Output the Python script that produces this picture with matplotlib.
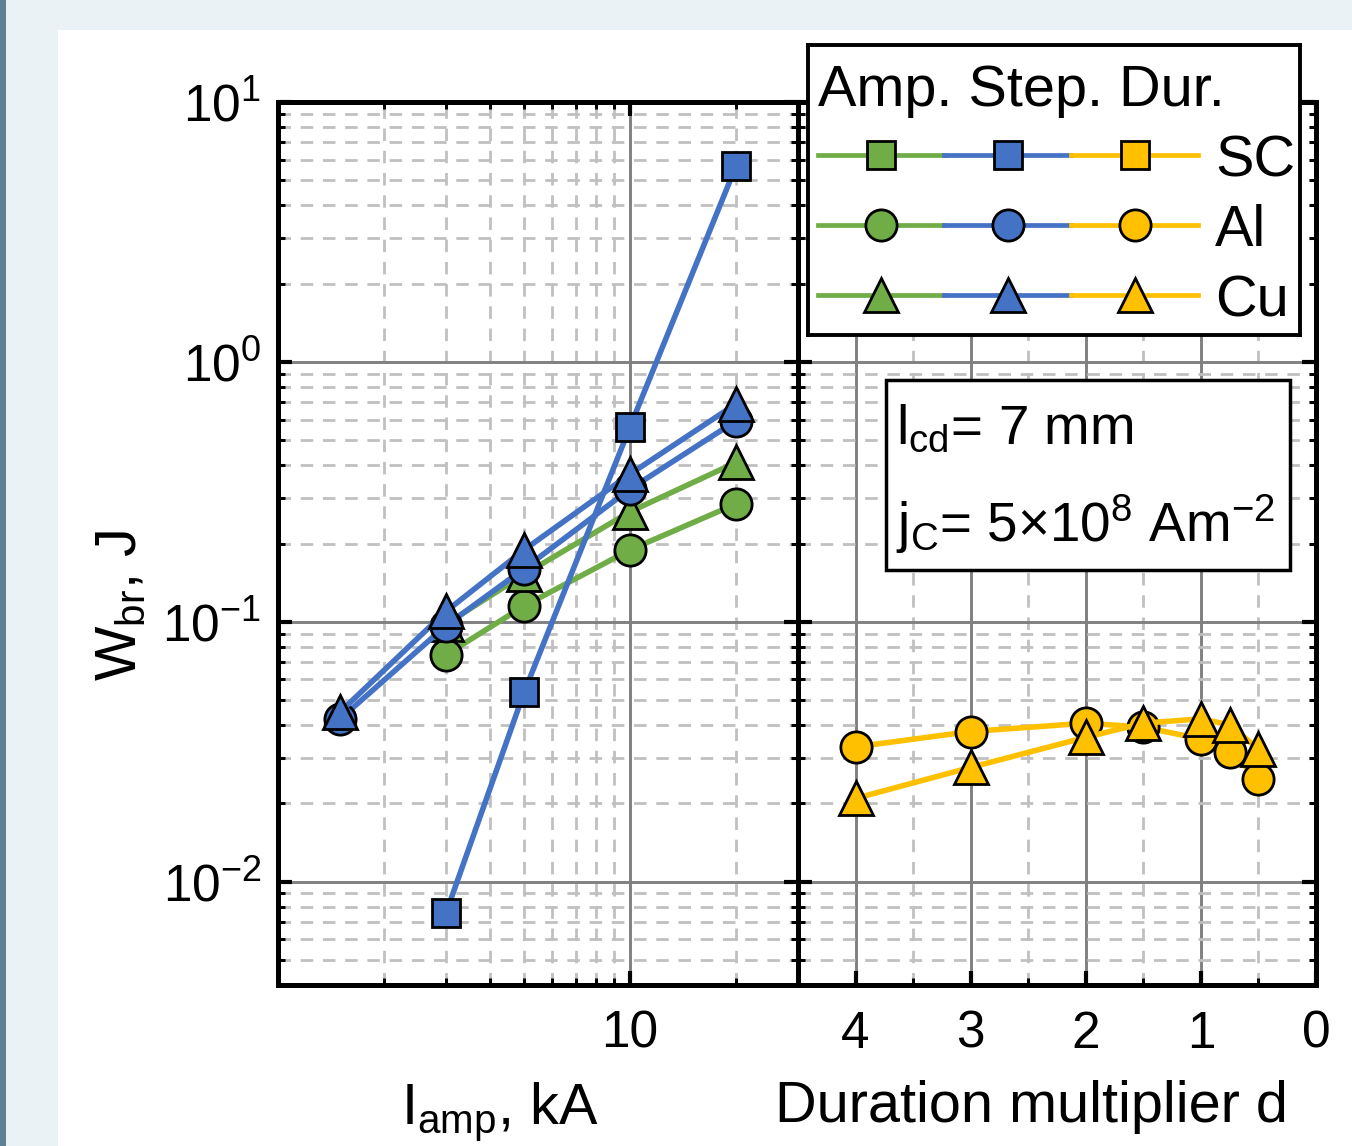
import matplotlib
matplotlib.use("Agg")
import matplotlib.pyplot as plt
from matplotlib.patches import Rectangle
from matplotlib.ticker import FixedLocator, LogLocator, MultipleLocator, NullFormatter

plt.rcParams["font.family"] = ["Liberation Sans", "DejaVu Sans"]
plt.rcParams["mathtext.default"] = "regular"

# --------------------------------------------------------------------------- #
# Data
# --------------------------------------------------------------------------- #
amp_x = [3, 5, 10, 20]
amp_al = [0.0746, 0.115, 0.189, 0.284]
amp_cu = [0.098, 0.152, 0.265, 0.410]

step_x = [1.5, 3, 5, 10, 20]
step_al = [0.0422, 0.0966, 0.160, 0.324, 0.593]
step_cu = [0.0449, 0.1096, 0.189, 0.370, 0.689]
step_sc_x = [3, 5, 10, 20]
step_sc = [0.00756, 0.0535, 0.562, 5.67]

dur_x = [4, 3, 2, 1.5, 1, 0.75, 0.5]
dur_al = [0.0330, 0.0378, 0.0407, 0.0393, 0.0354, 0.0316, 0.0249]
dur_cu = [0.0209, 0.0275, 0.0359, 0.0407, 0.0423, 0.0401, 0.0323]

legend_rows = ["SC", "Al", "Cu"]

GREEN = "#70ad47"
BLUE = "#4472c4"
YELLOW = "#ffc000"
MARK = {"s": 20, "o": 22.5, "^": 24}
FS = 41.5

W, H = 1352, 1146
fig = plt.figure(figsize=(W / 100, H / 100), dpi=100)
fig.patch.set_facecolor("#eaf2f5")
fig.add_artist(Rectangle((58 / W, 0), 1 - 58 / W, 1 - 30 / H,
                         transform=fig.transFigure, facecolor="white",
                         edgecolor="none", zorder=-10))
fig.add_artist(Rectangle((0, 0), 6 / W, 1, transform=fig.transFigure,
                         facecolor="#5e8195", edgecolor="none", zorder=-10))

bottom = 1 - 985 / H
height = (985 - 102) / H
ax1 = fig.add_axes([278 / W, bottom, 520 / W, height])
ax2 = fig.add_axes([798 / W, bottom, 518 / W, height], sharey=ax1)


def series(ax, x, y, color, marker):
    ax.plot(x, y, color=color, lw=4, marker=marker, ms=MARK[marker],
            mfc=color, mec="black", mew=2, zorder=3)


series(ax1, amp_x, amp_al, GREEN, "o")
series(ax1, amp_x, amp_cu, GREEN, "^")
series(ax1, step_sc_x, step_sc, BLUE, "s")
series(ax1, step_x, step_al, BLUE, "o")
series(ax1, step_x, step_cu, BLUE, "^")
series(ax2, dur_x, dur_al, YELLOW, "o")
series(ax2, dur_x, dur_cu, YELLOW, "^")

ax1.set_xscale("log")
ax1.set_yscale("log")
ax1.set_xlim(1, 30)
ax1.set_ylim(0.004, 10)
ax1.xaxis.set_major_locator(FixedLocator([10]))
ax1.set_xticklabels(["10"])
ax1.xaxis.set_minor_locator(LogLocator(base=10, subs=range(2, 10)))
ax1.xaxis.set_minor_formatter(NullFormatter())
ax1.yaxis.set_minor_locator(LogLocator(base=10, subs=range(2, 10), numticks=20))
ax1.yaxis.set_minor_formatter(NullFormatter())

ax2.set_xlim(4.5, 0)
ax2.xaxis.set_major_locator(MultipleLocator(1))
ax2.xaxis.set_minor_locator(MultipleLocator(0.5))
ax2.tick_params(axis="y", which="both", labelleft=False)

for ax in (ax1, ax2):
    ax.grid(True, which="major", color="#808080", lw=2.1, ls="-", zorder=0)
    ax.grid(True, which="minor", color="#c0c0c0", lw=2.0, ls=(0, (4.5, 3.5)), zorder=0)
    ax.set_axisbelow(True)
    ax.tick_params(which="both", direction="in", top=True, right=True,
                   labelsize=37, colors="black")
    ax.tick_params(which="major", length=10, width=3, pad=12)
    ax.tick_params(which="minor", length=5, width=2.2)
    ax.tick_params(axis="x", which="major", pad=18)
    for sp in ax.spines.values():
        sp.set_linewidth(3.6)
        sp.set_color("black")

ax1.set_xlabel("I$_{amp}$, kA", fontsize=FS)
ax1.xaxis.set_label_coords(0.427, -0.108)
ax1.set_ylabel("W$_{br}$, J", fontsize=FS)
ax1.yaxis.set_label_coords(-0.25, 0.43)
ax2.set_xlabel("Duration multiplier d", fontsize=FS)
ax2.xaxis.set_label_coords(0.45, -0.108)

# annotation box
ax2.add_patch(Rectangle((0.170, 0.470), 0.780, 0.215, transform=ax2.transAxes,
                        facecolor="white", edgecolor="black", lw=2.5, zorder=5))
ax2.text(0.19, 0.628, "l$_{cd}$= 7 mm", transform=ax2.transAxes,
         fontsize=39.5, va="center", ha="left", zorder=6)
ax2.text(0.19, 0.522, "j$_{C}$= 5\u00d710$^{8}$ Am$^{-2}$", transform=ax2.transAxes,
         fontsize=39.5, va="center", ha="left", zorder=6)

# legend panel
lg = fig.add_axes([808 / W, 1 - 335 / H, 492 / W, 290 / H], zorder=10)
lg.set_xlim(0, 1)
lg.set_ylim(0, 1)
lg.set_xticks([])
lg.set_yticks([])
for sp in lg.spines.values():
    sp.set_linewidth(2.8)
lg.text(0.02, 0.84, "Amp. Step. Dur.", fontsize=FS, va="center", ha="left")
row_y = [0.621, 0.379, 0.138]
col_x = [(0.02, 0.276), (0.276, 0.535), (0.535, 0.793)]
for label, yy, mk in zip(legend_rows, row_y, ["s", "o", "^"]):
    for (x0, x1), c in zip(col_x, [GREEN, BLUE, YELLOW]):
        lg.plot([x0, x1], [yy, yy], color=c, lw=3.4)
        lg.plot([(x0 + x1) / 2], [yy], marker=mk, ms=MARK[mk], mfc=c,
                mec="black", mew=2)
    lg.text(0.827, yy - 0.022, label, fontsize=FS, va="center", ha="left")

fig.savefig("out.png", dpi=100)
